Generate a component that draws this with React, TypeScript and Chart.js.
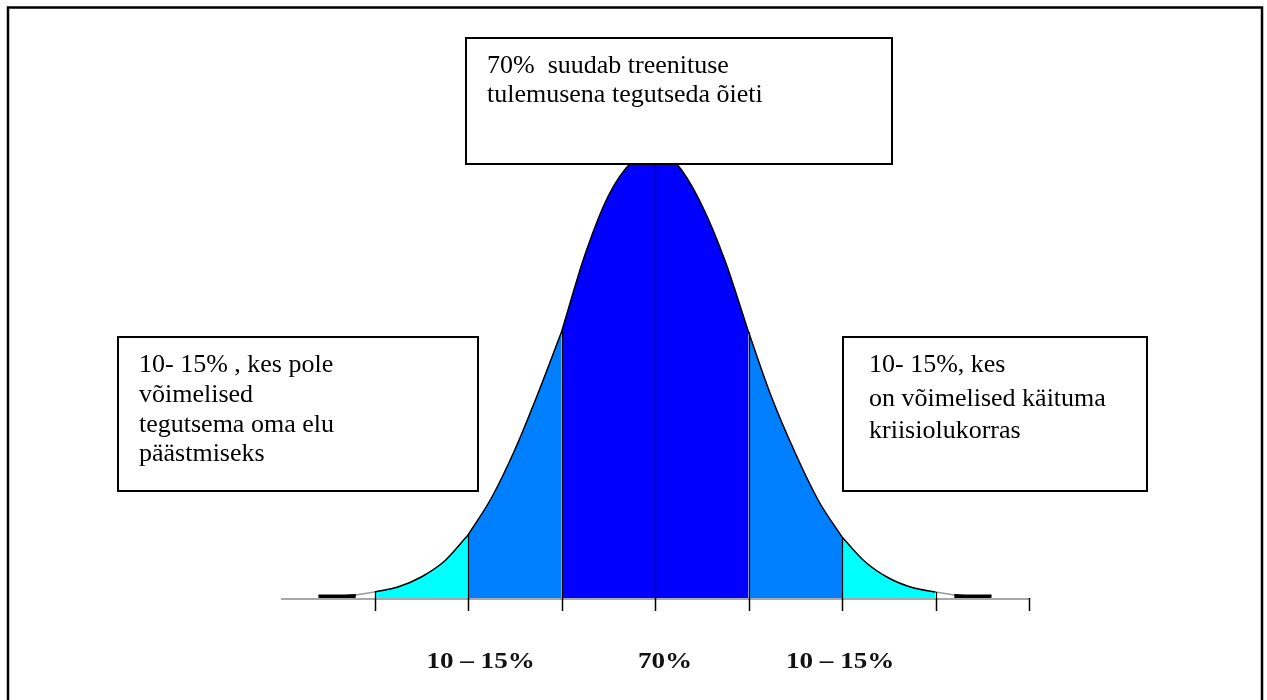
import React, { useEffect, useRef } from "react";
import { Chart, registerables } from "chart.js";

Chart.register(...registerables);

// positions along the axis, in standard deviations
const sigmaX = [
  -3.6, -3.4, -3.2, -3.0, -2.75, -2.5, -2.25, -2.0, -1.75, -1.5, -1.25, -1.0, -0.75, -0.5, -0.25, 0,
  0.25, 0.5, 0.75, 1.0, 1.25, 1.5, 1.75, 2.0, 2.25, 2.5, 2.75, 3.0, 3.2, 3.4, 3.6,
];
// curve heights
const heights = [
  2.5, 2.5, 3, 6, 11, 21, 37, 63, 100, 148, 205, 266, 343, 402, 436, 448,
  432, 393, 337, 266, 200, 145, 97, 61, 36, 20, 10.5, 6, 3, 2.5, 2.5,
];
// band boundaries and their colours
const bandEdges = [-3.6, -3.2, -3, -2, -1, 1, 2, 3, 3.2, 3.6];
const bandColors = ["#000000", "#ffffff", "#00ffff", "#0080ff", "#0000ff", "#0080ff", "#00ffff", "#ffffff", "#000000"];
const dividerAt = [-3, -2, -1, 0, 1, 2, 3];
const tickAt = [-3, -2, -1, 0, 1, 2, 3, 4];
const bottomLabels = ["10 – 15%", "70%", "10 – 15%"];
const bottomLabelAt = [-1.865, 0.107, 1.98];
const topBoxLines = ["70%  suudab treenituse", "tulemusena tegutseda õieti"];
const leftBoxLines = ["10- 15% , kes pole", "võimelised", "tegutsema oma elu", "päästmiseks"];
const rightBoxLines = ["10- 15%, kes", "on võimelised käituma", "kriisiolukorras"];

const FONT = '"Liberation Serif", "Times New Roman", serif';

function heightAt(x: number): number {
  const i = sigmaX.findIndex((v) => Math.abs(v - x) < 1e-9);
  return i >= 0 ? heights[i] : 0;
}

const decorPlugin = {
  id: "decor",
  beforeDraw(chart: any) {
    const ctx = chart.ctx;
    ctx.save();
    ctx.fillStyle = "#ffffff";
    ctx.fillRect(0, 0, chart.width, chart.height);
    ctx.restore();
  },
  beforeDatasetsDraw(chart: any) {
    const ctx = chart.ctx;
    const xs = chart.scales.x;
    const ys = chart.scales.y;
    const y0 = ys.getPixelForValue(0);
    ctx.save();
    ctx.strokeStyle = "#a8a8a8";
    ctx.lineWidth = 2;
    ctx.beginPath();
    ctx.moveTo(xs.getPixelForValue(-4), y0 + 1);
    ctx.lineTo(xs.getPixelForValue(4), y0 + 1);
    ctx.stroke();
    ctx.restore();
  },
  afterDatasetsDraw(chart: any) {
    const ctx = chart.ctx;
    const xs = chart.scales.x;
    const ys = chart.scales.y;
    const y0 = ys.getPixelForValue(0);
    ctx.save();
    // dividers inside the curve
    ctx.strokeStyle = "#000000";
    ctx.lineWidth = 1.2;
    dividerAt.forEach((d) => {
      const px = Math.round(xs.getPixelForValue(d)) + 0.5;
      ctx.beginPath();
      ctx.moveTo(px, y0);
      ctx.lineTo(px, ys.getPixelForValue(heightAt(d)));
      ctx.stroke();
    });
    // tick marks
    ctx.lineWidth = 1.5;
    tickAt.forEach((d) => {
      const px = Math.round(xs.getPixelForValue(d)) + 0.5;
      ctx.beginPath();
      ctx.moveTo(px, y0);
      ctx.lineTo(px, y0 + 13);
      ctx.stroke();
    });
    // bottom labels
    ctx.fillStyle = "#111111";
    ctx.font = `bold 24px ${FONT}`;
    ctx.textAlign = "center";
    ctx.textBaseline = "alphabetic";
    bottomLabels.forEach((t, i) => {
      const px = xs.getPixelForValue(bottomLabelAt[i]);
      ctx.save();
      ctx.translate(px, y0 + 70);
      ctx.scale(1.13, 1);
      ctx.fillText(t, 0, 0);
      ctx.restore();
    });

    const box = (x: number, y: number, w: number, h: number) => {
      ctx.fillStyle = "#ffffff";
      ctx.fillRect(x, y, w, h);
      ctx.strokeStyle = "#000000";
      ctx.lineWidth = 2;
      ctx.strokeRect(x, y, w, h);
    };
    const lines = (arr: string[], x: number, ys0: number[]) => {
      ctx.fillStyle = "#000000";
      ctx.font = `26px ${FONT}`;
      ctx.textAlign = "left";
      ctx.textBaseline = "alphabetic";
      arr.forEach((t, i) => ctx.fillText(t, x, ys0[i]));
    };
    box(466, 38, 426, 126);
    lines(topBoxLines, 487, [73, 102]);
    box(118, 337, 360, 154);
    lines(leftBoxLines, 139, [372, 402, 432, 461]);
    box(843, 337, 304, 154);
    lines(rightBoxLines, 869, [372, 406, 438]);

    // outer frame
    ctx.strokeStyle = "#000000";
    ctx.lineWidth = 2.5;
    ctx.strokeRect(8, 7.5, 1254, 760);
    ctx.restore();
  },
};

export default function App() {
  const ref = useRef<HTMLCanvasElement | null>(null);
  useEffect(() => {
    if (!ref.current) return;
    const datasets = bandColors.map((color, i) => {
      const lo = bandEdges[i];
      const hi = bandEdges[i + 1];
      const pts = sigmaX
        .map((x, k) => ({ x, y: heights[k] }))
        .filter((p) => p.x >= lo - 1e-9 && p.x <= hi + 1e-9);
      const isWhite = color === "#ffffff";
      return {
        data: pts,
        backgroundColor: color,
        borderColor: isWhite ? "#9a9a9a" : "#000000",
        borderWidth: color === "#000000" ? 2 : 1.5,
        fill: "origin",
        pointRadius: 0,
        cubicInterpolationMode: "monotone" as const,
      };
    });
    const chart = new Chart(ref.current, {
      type: "line",
      data: { datasets },
      options: {
        responsive: false,
        animation: false,
        devicePixelRatio: 1,
        layout: { padding: { left: 281, right: 238, top: 98, bottom: 102 } },
        plugins: { legend: { display: false }, tooltip: { enabled: false } },
        scales: {
          x: { type: "linear", min: -4, max: 4, display: false },
          y: { min: 0, max: 500, display: false },
        },
      },
      plugins: [decorPlugin],
    } as any);
    return () => chart.destroy();
  }, []);
  return (
    <div style={{ position: "absolute", left: 0, top: 0, width: 1267, height: 700 }}>
      <canvas ref={ref} width={1267} height={700} />
    </div>
  );
}
